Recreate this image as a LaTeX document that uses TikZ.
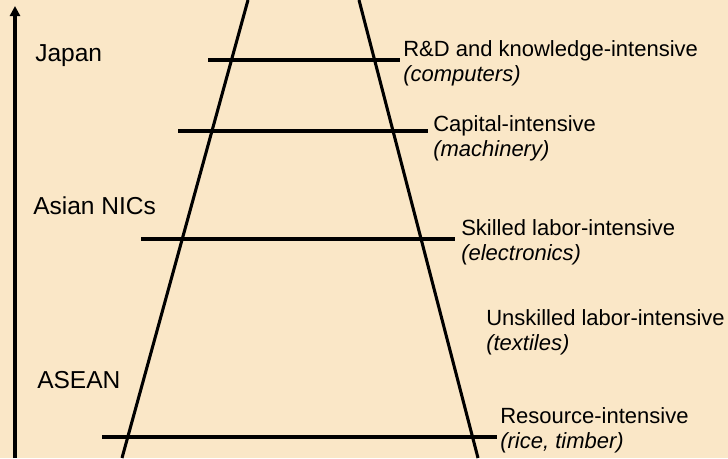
\documentclass[tikz,border=0pt]{standalone}
\usepackage{fontspec}
\setmainfont{Liberation Sans}
\usetikzlibrary{arrows.meta,positioning}
\definecolor{bgcream}{RGB}{250,231,199}

\begin{document}
\begin{tikzpicture}[x=0.75pt,y=-0.75pt,
  holm/.style={line width=2.3pt,black},
  stufe/.style={anchor=base west,align=left,inner sep=0pt,font=\fontsize{16.5}{18.4}\selectfont},
  land/.style={anchor=base west,inner sep=0pt,font=\fontsize{18.4}{22}\selectfont}]
%Hintergrund und feste Bildgroesse
\fill[bgcream] (0,0) rectangle (728,458);
\useasboundingbox (0,0) rectangle (728,458);
%Entwicklungspfeil links
\coordinate (pfeilunten) at (15,458);
\coordinate (pfeiloben) at (15,6);
\draw[holm,-{Triangle[length=7.5pt,width=7.5pt]}] (pfeilunten) -- (pfeiloben);
%Leiter: zwei Holme
\coordinate (lo) at (248,0);
\coordinate (lu) at (122,458);
\coordinate (ro) at (359,0);
\coordinate (ru) at (478,458);
\draw[holm] (lo) -- (lu);
\draw[holm] (ro) -- (ru);
%Sprossen (y / links / rechts)
\foreach \y/\xl/\xr in {60/208/400,131/178/428,239/141/455,437/102/497}{
\draw[holm] (\xl,\y) -- (\xr,\y);
}
%Laender
\node[land] (japan) at (35,61) {Japan};
\node[land] (nics) at (33,214) {Asian NICs};
\node[land] (asean) at (37,388) {ASEAN};
%Stufen (Grundlinie der zweiten Zeile)
\node[stufe] (rd) at (403,81) {R\&D and knowledge-intensive\\\textit{(computers)}};
\node[stufe] (kapital) at (433,156) {Capital-intensive\\\textit{(machinery)}};
\node[stufe] (skilled) at (461,260) {Skilled labor-intensive\\\textit{(electronics)}};
\node[stufe] (unskilled) at (486,350) {Unskilled labor-intensive\\\textit{(textiles)}};
\node[stufe] (resource) at (500,448.5) {Resource-intensive\\\textit{(rice, timber)}};
\end{tikzpicture}
\end{document}
